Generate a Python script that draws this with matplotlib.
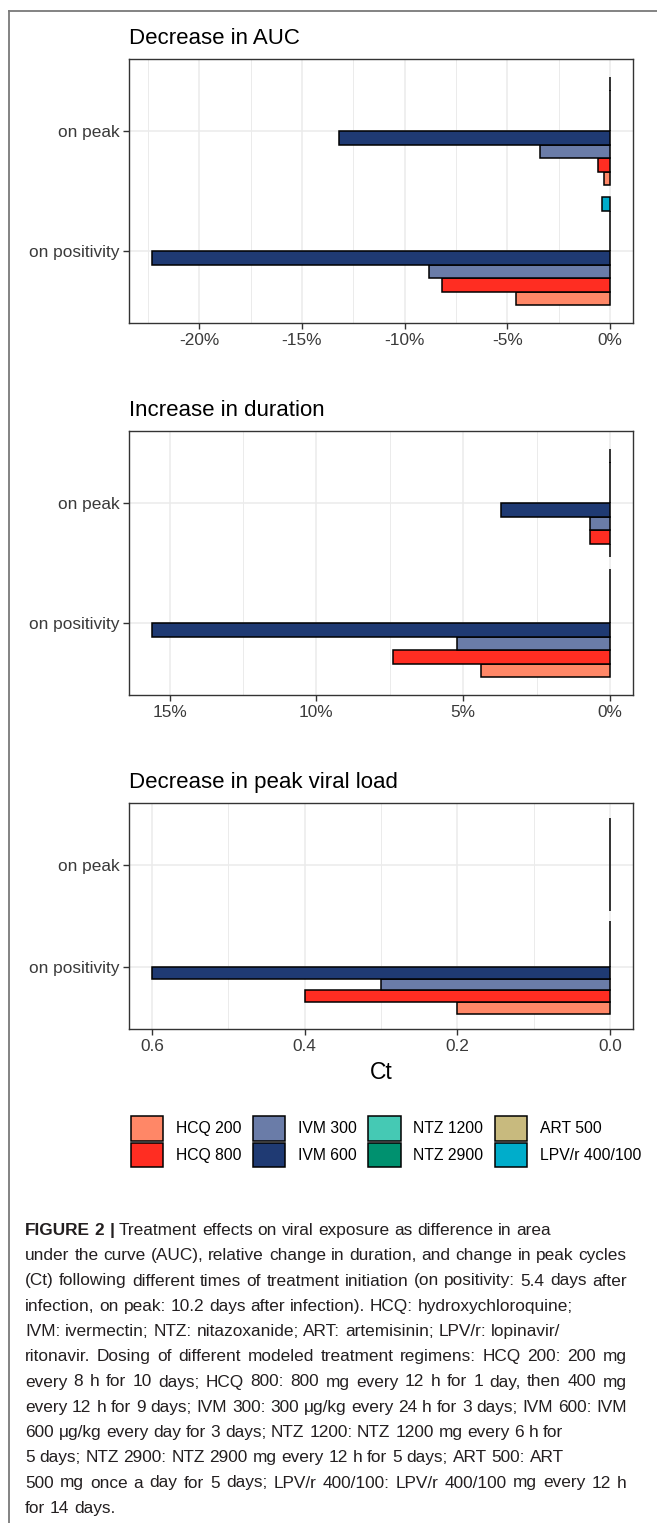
import numpy as np
import matplotlib.pyplot as plt
from matplotlib.patches import Patch
from matplotlib.lines import Line2D
from matplotlib.ticker import FuncFormatter
from matplotlib import font_manager

plt.rcParams['font.family'] = ['Liberation Sans', 'DejaVu Sans']
plt.rcParams['axes.unicode_minus'] = False

# data
treatments = ["HCQ 200", "HCQ 800", "IVM 300", "IVM 600",
              "NTZ 1200", "NTZ 2900", "ART 500", "LPV/r 400/100"]
bar_colors = ["#FF8767", "#FF2D22", "#6A7CA8", "#1F3A73",
              "#45C9B4", "#00916F", "#C8BA7E", "#00ADCB"]
timings = ["on positivity", "on peak"]

auc_positivity = [-4.6, -8.2, -8.8, -22.3, 0, 0, 0, -0.4]
auc_peak = [-0.3, -0.6, -3.4, -13.2, 0, 0, 0, 0]
dur_positivity = [4.4, 7.4, 5.2, 15.6, 0, 0, 0, 0]
dur_peak = [0, 0.7, 0.7, 3.7, 0, 0, 0, 0]
ct_positivity = [0.2, 0.4, 0.3, 0.6, 0, 0, 0, 0]
ct_peak = [0, 0, 0, 0, 0, 0, 0, 0]

caption_lines = [
    "FIGURE 2 | Treatment effects on viral exposure as difference in area",
    "under the curve (AUC), relative change in duration, and change in peak cycles",
    "(Ct) following different times of treatment initiation (on positivity: 5.4 days after",
    "infection, on peak: 10.2 days after infection). HCQ: hydroxychloroquine;",
    "IVM: ivermectin; NTZ: nitazoxanide; ART: artemisinin; LPV/r: lopinavir/",
    "ritonavir. Dosing of different modeled treatment regimens: HCQ 200: 200 mg",
    "every 8 h for 10 days; HCQ 800: 800 mg every 12 h for 1 day, then 400 mg",
    "every 12 h for 9 days; IVM 300: 300 \u03bcg/kg every 24 h for 3 days; IVM 600: IVM",
    "600 \u03bcg/kg every day for 3 days; NTZ 1200: NTZ 1200 mg every 6 h for",
    "5 days; NTZ 2900: NTZ 2900 mg every 12 h for 5 days; ART 500: ART",
    "500 mg once a day for 5 days; LPV/r 400/100: LPV/r 400/100 mg every 12 h",
    "for 14 days.",
]
# lines that run to the right margin in the original
full_lines = [1, 2, 5, 6, 7, 10]

W, H = 657, 1523
fig = plt.figure(figsize=(W / 100, H / 100), dpi=100)

def px_axes(left, top, right, bottom):
    return fig.add_axes([left / W, 1 - bottom / H, (right - left) / W, (bottom - top) / H])

def draw_panel(ax, title, vals_pos, vals_peak, reverse, major, minor, fmt):
    nb = len(treatments)
    bw = 0.9 / nb
    for g, vals in enumerate([vals_pos, vals_peak], start=1):
        ys = g - 0.45 + bw * (np.arange(nb) + 0.5)
        ax.barh(ys, vals, height=bw, color=bar_colors, edgecolor='black',
                linewidth=1.1, zorder=3)
    allv = list(vals_pos) + list(vals_peak) + [0]
    lo, hi = min(allv), max(allv)
    span = hi - lo
    lims = (lo - 0.05 * span, hi + 0.05 * span)
    ax.set_xlim(lims[::-1] if reverse else lims)
    ax.set_ylim(0.4, 2.6)
    ax.set_xticks(major)
    ax.set_xticks(minor, minor=True)
    ax.xaxis.set_major_formatter(FuncFormatter(fmt))
    ax.set_yticks([1, 2], timings)
    ax.grid(which='major', color='#EBEBEB', lw=1.1, zorder=0)
    ax.grid(which='minor', axis='x', color='#EBEBEB', lw=0.7, zorder=0)
    ax.set_axisbelow(True)
    ax.tick_params(which='major', length=4.5, width=1, color='#333333',
                   labelsize=12.4, labelcolor='#3A3A3A', pad=2.5)
    ax.tick_params(which='minor', length=0)
    for s in ax.spines.values():
        s.set_color('#333333')
        s.set_linewidth(1)
    ax.set_title(title, loc='left', fontsize=16, pad=11, color='black')

ax1 = px_axes(129, 59, 633, 323)
draw_panel(ax1, "Decrease in AUC", auc_positivity, auc_peak, False,
           [-20, -15, -10, -5, 0], [-22.5, -17.5, -12.5, -7.5, -2.5],
           lambda v, p: "%d%%" % round(v))

ax2 = px_axes(129, 431, 633, 695)
draw_panel(ax2, "Increase in duration", dur_positivity, dur_peak, True,
           [0, 5, 10, 15], [2.5, 7.5, 12.5],
           lambda v, p: "%d%%" % round(v))

ax3 = px_axes(129, 803, 633, 1029)
draw_panel(ax3, "Decrease in peak viral load", ct_positivity, ct_peak, True,
           [0, 0.2, 0.4, 0.6], [0.1, 0.3, 0.5],
           lambda v, p: "%.1f" % v)
ax3.set_xlabel("Ct", fontsize=16.5, labelpad=5)

handles = [Patch(facecolor=c, edgecolor='black', lw=1.1) for c in bar_colors]
fig.legend(handles, treatments, ncol=4, loc='upper left',
           bbox_to_anchor=(131 / W, 1 - 1116 / H), frameon=False, fontsize=11.3,
           handlelength=2.05, handleheight=2.05, handletextpad=0.8,
           columnspacing=0.75, labelspacing=0.12, borderpad=0, borderaxespad=0)

# page frame
fig.add_artist(Line2D([9 / W, 9 / W], [0, 1 - 10.5 / H], transform=fig.transFigure,
                      color='#7A7A7A', lw=1.3))
fig.add_artist(Line2D([9 / W, 1], [1 - 10.5 / H, 1 - 10.5 / H], transform=fig.transFigure,
                      color='#7A7A7A', lw=1.3))

# caption in a narrow face if there is one, sized so the widest line fits
names = {f.name for f in font_manager.fontManager.ttflist}
cap_family = ['Liberation Sans Narrow'] if 'Liberation Sans Narrow' in names else ['Liberation Sans']
cap_family = cap_family + ['DejaVu Sans']

renderer = fig.canvas.get_renderer()
x0, x1 = 25, 626.5

def measure(s, size, bold=False):
    t = fig.text(0, 0, s, fontsize=size, family=cap_family,
                 fontweight='bold' if bold else 'normal')
    w = t.get_window_extent(renderer).width
    t.remove()
    return w

base = 12
space_w = measure("a a", base) - measure("aa", base)
natural = []
for i, line in enumerate(caption_lines):
    words = line.split(' ')
    tot = sum(measure(w, base, i == 0 and j < 3) for j, w in enumerate(words))
    natural.append(tot + space_w * (len(words) - 1))
cap_size = min(base * (x1 - x0) / max(natural), 13.0)
space_w = space_w * cap_size / base

for i, line in enumerate(caption_lines):
    yb = 1 - (1235 + i * 25.25) / H
    words = line.split(' ')
    arts = []
    for j, w in enumerate(words):
        bold = (i == 0 and j < 3)
        arts.append(fig.text(0, yb, w, fontsize=cap_size, family=cap_family,
                             va='baseline', ha='left',
                             fontweight='bold' if bold else 'normal', color='#231F20'))
    widths = [t.get_window_extent(renderer).width for t in arts]
    if i in full_lines:
        gap = (x1 - x0 - sum(widths)) / (len(words) - 1)
    else:
        gap = space_w
    x = x0
    for t, wd in zip(arts, widths):
        t.set_x(x / W)
        x += wd + gap

fig.savefig('out.png', dpi=100)
